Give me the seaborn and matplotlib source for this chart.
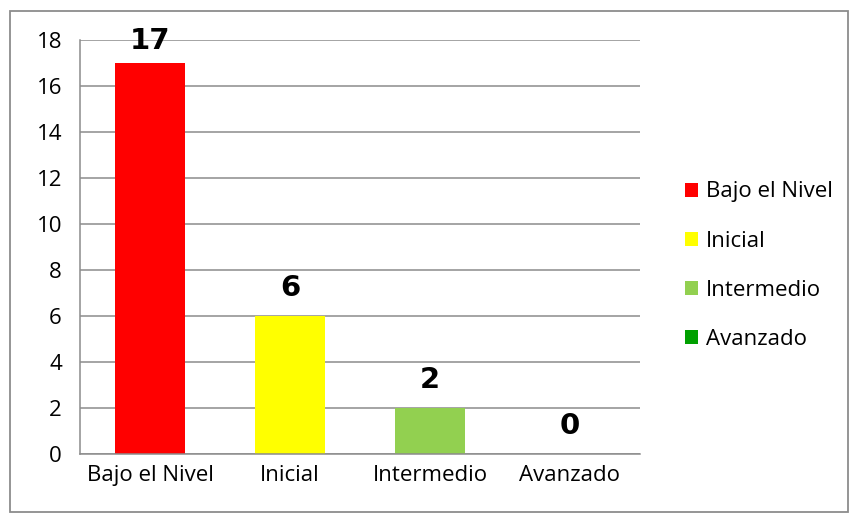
import numpy as np
import pandas as pd
import seaborn as sns
import matplotlib.pyplot as plt
from matplotlib.patches import Patch, Rectangle

# data
categories = ["Bajo el Nivel", "Inicial", "Intermedio", "Avanzado"]
counts = [17, 6, 2, 0]
bar_colors = ["#FF0000", "#FFFF00", "#92D050", "#00A000"]
y_ticks = list(range(0, 20, 2))

df = pd.DataFrame({"nivel": categories, "n": counts})

sns.set_style("white")
plt.rcParams["font.family"] = ["Open Sans", "DejaVu Sans"]
plt.rcParams["text.color"] = "black"
plt.rcParams["xtick.labelcolor"] = "black"
plt.rcParams["ytick.labelcolor"] = "black"

fig = plt.figure(figsize=(8.51, 5.14), dpi=100)
ax = fig.add_axes([0.094, 0.1167, 0.658, 0.8055])

sns.barplot(data=df, x="nivel", y="n", hue="nivel", palette=bar_colors,
            width=0.5, legend=False, ax=ax, saturation=1, linewidth=0)

grid_c = "#8C8C8C"
ax.set_ylim(0, 18)
ax.set_xlim(-0.5, 3.5)
ax.set_yticks(y_ticks)
ax.yaxis.grid(True, color=grid_c, linewidth=1.1)
ax.set_axisbelow(True)
for side in ["top", "right"]:
    ax.spines[side].set_visible(False)
for side in ["left", "bottom"]:
    ax.spines[side].set_color(grid_c)
    ax.spines[side].set_linewidth(1.1)

ax.tick_params(axis="y", direction="out", length=6, color=grid_c, width=1.1,
               labelsize=16, pad=7)
ax.tick_params(axis="x", which="major", length=0, labelsize=16, pad=8)
ax.set_xticks(np.arange(-0.5, 4.0, 1.0), minor=True)
ax.tick_params(axis="x", which="minor", direction="out", length=6,
               color=grid_c, width=1.1)
ax.set_xlabel("")
ax.set_ylabel("")

# value labels above bars
for i, v in enumerate(counts):
    off = 6 if v >= 17 else 10
    ax.annotate(str(v), (i, v), xytext=(0, off), textcoords="offset points",
                ha="center", va="bottom", fontsize=21, fontweight="heavy",
                family=["DejaVu Sans"], clip_on=False)

handles = [Patch(facecolor=c, edgecolor="none") for c in bar_colors]
fig.legend(handles, categories, loc="center left",
           bbox_to_anchor=(0.781, 0.483), frameon=False, fontsize=16,
           handlelength=0.6, handleheight=0.6, handletextpad=0.35,
           labelspacing=1.27)

# outer chart border
fig.patches.append(Rectangle((0.012, 0.004), 0.984, 0.975,
                             transform=fig.transFigure, fill=False,
                             edgecolor="#8C8C8C", linewidth=1.3))

fig.savefig("out.png", dpi=100)
